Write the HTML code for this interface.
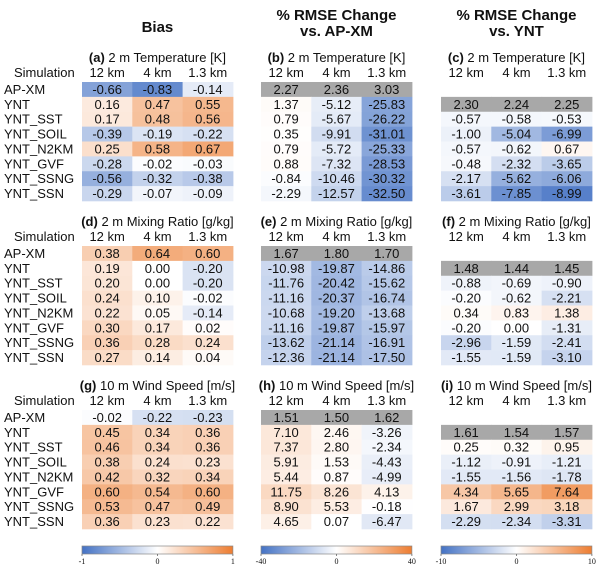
<!DOCTYPE html>
<html><head><meta charset="utf-8"><style>
body{margin:0;background:#fff;}
svg text{font-family:"Liberation Sans",Arial,sans-serif;}
</style></head><body>
<svg id="fig" width="600" height="568" xmlns="http://www.w3.org/2000/svg"></svg>
<script>
// ---- data ----
const simulations = ["AP-XM","YNT","YNT_SST","YNT_SOIL","YNT_N2KM","YNT_GVF","YNT_SSNG","YNT_SSN"];
const resolutions = ["12 km","4 km","1.3 km"];
const panelTitles = [
  ["(a)"," 2 m Temperature [K]"],["(b)"," 2 m Temperature [K]"],["(c)"," 2 m Temperature [K]"],
  ["(d)"," 2 m Mixing Ratio [g/kg]"],["(e)"," 2 m Mixing Ratio [g/kg]"],["(f)"," 2 m Mixing Ratio [g/kg]"],
  ["(g)"," 10 m Wind Speed [m/s]"],["(h)"," 10 m Wind Speed [m/s]"],["(i)"," 10 m Wind Speed [m/s]"]];
const biasT = [[-0.66,-0.83,-0.14],[0.16,0.47,0.55],[0.17,0.48,0.56],[-0.39,-0.19,-0.22],[0.25,0.58,0.67],[-0.28,-0.02,-0.03],[-0.56,-0.32,-0.38],[-0.29,-0.07,-0.09]];
const rmseApT = [[2.27,2.36,3.03],[1.37,-5.12,-25.83],[0.79,-5.67,-26.22],[0.35,-9.91,-31.01],[0.79,-5.72,-25.33],[0.88,-7.32,-28.53],[-0.84,-10.46,-30.32],[-2.29,-12.57,-32.50]];
const rmseYntT = [null,[2.30,2.24,2.25],[-0.57,-0.58,-0.53],[-1.00,-5.04,-6.99],[-0.57,-0.62,0.67],[-0.48,-2.32,-3.65],[-2.17,-5.62,-6.06],[-3.61,-7.85,-8.99]];
const biasQ = [[0.38,0.64,0.60],[0.19,0.00,-0.20],[0.20,0.00,-0.20],[0.24,0.10,-0.02],[0.22,0.05,-0.14],[0.30,0.17,0.02],[0.36,0.28,0.24],[0.27,0.14,0.04]];
const rmseApQ = [[1.67,1.80,1.70],[-10.98,-19.87,-14.86],[-11.76,-20.42,-15.62],[-11.16,-20.37,-16.74],[-10.68,-19.20,-13.68],[-11.16,-19.87,-15.97],[-13.62,-21.14,-16.91],[-12.36,-21.14,-17.50]];
const rmseYntQ = [null,[1.48,1.44,1.45],[-0.88,-0.69,-0.90],[-0.20,-0.62,-2.21],[0.34,0.83,1.38],[-0.20,0.00,-1.31],[-2.96,-1.59,-2.41],[-1.55,-1.59,-3.10]];
const biasW = [[-0.02,-0.22,-0.23],[0.45,0.34,0.36],[0.46,0.34,0.36],[0.38,0.24,0.23],[0.42,0.32,0.34],[0.60,0.54,0.60],[0.53,0.47,0.49],[0.36,0.23,0.22]];
const rmseApW = [[1.51,1.50,1.62],[7.10,2.46,-3.26],[7.37,2.80,-2.34],[5.91,1.53,-4.43],[5.44,0.87,-4.99],[11.75,8.26,4.13],[8.90,5.53,-0.18],[4.65,0.07,-6.47]];
const rmseYntW = [null,[1.61,1.54,1.57],[0.25,0.32,0.95],[-1.12,-0.91,-1.21],[-1.55,-1.56,-1.78],[4.34,5.65,7.64],[1.67,2.99,3.18],[-2.29,-2.34,-3.31]];
const colorLimits = [1,40,10];
const colorbarTicks = [["-1","0","1"],["-40","0","40"],["-10","0","10"]];
const columnTitles = [["Bias"],["% RMSE Change","vs. AP-XM"],["% RMSE Change","vs. YNT"]];

const panels = [biasT,rmseApT,rmseYntT,biasQ,rmseApQ,rmseYntQ,biasW,rmseApW,rmseYntW];
// reference row (gray) index per column type
const refRow = [-1,0,1];

const NS="http://www.w3.org/2000/svg";
const svg=document.getElementById('fig');
function mk(tag,attrs,parent){const e=document.createElementNS(NS,tag);for(const k in attrs)e.setAttribute(k,attrs[k]);(parent||svg).appendChild(e);return e;}
const colX=[82,261,441], cellW=50.3, rowH=14.875, secTop=[82,246,410];
const blue=[68,114,196], orange=[237,125,49];
function color(v,lim){let t=Math.max(-1,Math.min(1,v/lim));const c=t<0?blue:orange;const a=Math.abs(t);
  return `rgb(${Math.round(255+(c[0]-255)*a)},${Math.round(255+(c[1]-255)*a)},${Math.round(255+(c[2]-255)*a)})`;}
function txt(x,y,s,opts,parent){const t=mk('text',Object.assign({x:x,y:y,'font-size':13,fill:'#111','text-anchor':'middle'},opts||{}),parent);t.textContent=s;return t;}

// column titles
for(let c=0;c<3;c++){
  const cx=colX[c]+cellW*1.5;
  const lines=columnTitles[c];
  lines.forEach((l,i)=>{
    const y=lines.length===1?32:20+i*16;
    const t=txt(cx,y,l,{'font-size':15,'font-weight':'bold'});
    
    
  });
}

for(let s=0;s<3;s++){
  const top=secTop[s];
  const lab=txt(3,top-5,"Simulation",{'text-anchor':'start','x':40-37,'font-size':13});
  lab.setAttribute('x',14);
  
  
  simulations.forEach((n,r)=>{
    const t=txt(4,top+r*rowH+rowH/2+4.5,n,{'text-anchor':'start'});
    
    
  });
  for(let c=0;c<3;c++){
    const p=s*3+c, data=panels[p], x0=colX[c];
    const g=mk('g',{});
    
    
    const h=txt(x0+cellW*1.5,top-20,'',{},g);
    const b=mk('tspan',{'font-weight':'bold'},h);b.textContent=panelTitles[p][0];
    const r2=mk('tspan',{},h);r2.textContent=panelTitles[p][1];
    
    
    resolutions.forEach((res,j)=>{
      const t=txt(x0+cellW*(j+0.5),top-5,res,{},g);
      
      
    });
    data.forEach((row,r)=>{
      if(!row)return;
      row.forEach((v,j)=>{
        const isRef=(r===refRow[c]);
        const rc=mk('rect',{x:x0+cellW*j,y:top+r*rowH,width:cellW+0.5,height:rowH+0.3,fill:isRef?'#a8a8a8':color(v,colorLimits[c])},g);
        
        
        const t=txt(x0+cellW*(j+0.5),top+r*rowH+rowH/2+4.5,v.toFixed(2),{},g);
        
        
      });
    });
  }
}

// colorbars
const defs=mk('defs',{});
const grad=mk('linearGradient',{id:'cb',x1:0,x2:1,y1:0,y2:0},defs);
mk('stop',{offset:'0','stop-color':'rgb(68,114,196)'},grad);
mk('stop',{offset:'0.5','stop-color':'#ffffff'},grad);
mk('stop',{offset:'1','stop-color':'rgb(237,125,49)'},grad);
for(let c=0;c<3;c++){
  const x0=colX[c], w=cellW*3;
  const g=mk('g',{});
  
  
  mk('rect',{x:x0,y:546,width:w,height:8,fill:'url(#cb)',stroke:'#888','stroke-width':0.7},g);
  colorbarTicks[c].forEach((l,i)=>{
    const x=x0+w*i/2;
    mk('line',{x1:x,x2:x,y1:554,y2:556,stroke:'#555','stroke-width':0.7},g);
    const t=txt(x,564,l,{'font-size':8,'font-family':'"Liberation Serif",serif',style:'font-family:"Liberation Serif",serif'},g);
    
    
  });
}
</script>
</body></html>
